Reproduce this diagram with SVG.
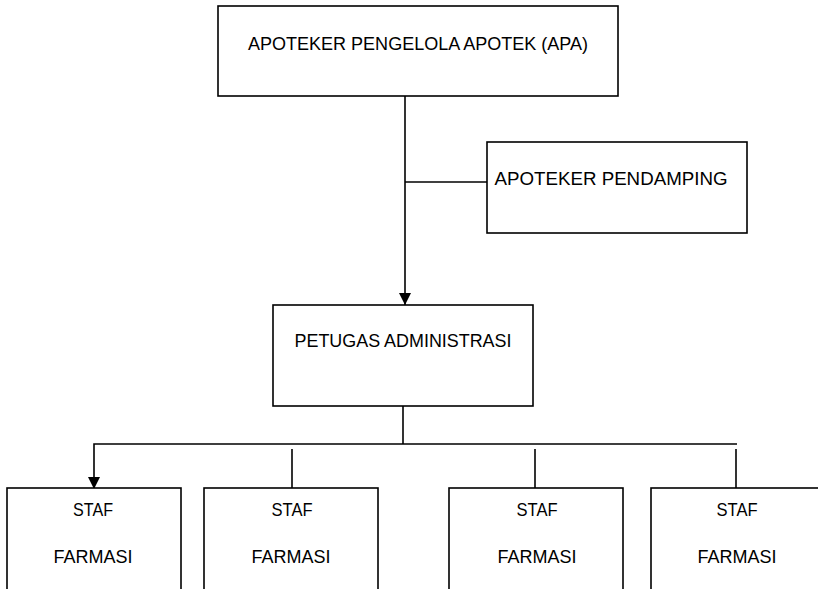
<svg xmlns="http://www.w3.org/2000/svg" width="818" height="589" viewBox="0 0 818 589">
<style>
.box{fill:#fff;stroke:#000;stroke-width:1.6}
.t{font-family:"Liberation Sans",Arial,sans-serif;font-size:18px;fill:#000;text-anchor:middle}
.c{fill:none;stroke:#000;stroke-width:1.6}
</style>
<defs>
<marker id="ah" markerWidth="12" markerHeight="12" refX="12" refY="6" orient="auto" markerUnits="userSpaceOnUse" viewBox="0 0 12 12">
<path d="M0,0 L12,6 L0,12 Z" fill="#000"/>
</marker>
</defs>
<g id="connectors">
<line class="c" x1="405" y1="96" x2="405" y2="305" stroke-width="2.4" marker-end="url(#ah)"/>
<line class="c" x1="405" y1="182" x2="487" y2="182"/>
<line class="c" x1="403" y1="406" x2="403" y2="444"/>
<polyline class="c" points="737,444 94,444 94,489" marker-end="url(#ah)"/>
<line class="c" x1="292" y1="449" x2="292" y2="488"/>
<line class="c" x1="535" y1="449" x2="535" y2="488"/>
<line class="c" x1="736" y1="449" x2="736" y2="488"/>
</g>
<g id="apa">
<rect class="box" x="218" y="6" width="400" height="90"/>
<text class="t" x="418" y="50" textLength="340" lengthAdjust="spacingAndGlyphs">APOTEKER PENGELOLA APOTEK (APA)</text>
</g>
<g id="pendamping">
<rect class="box" x="487" y="142" width="260" height="91"/>
<text class="t" x="611" y="185" textLength="233" lengthAdjust="spacingAndGlyphs">APOTEKER PENDAMPING</text>
</g>
<g id="petugas">
<rect class="box" x="273" y="305" width="260" height="101"/>
<text class="t" x="403" y="347" textLength="217" lengthAdjust="spacingAndGlyphs">PETUGAS ADMINISTRASI</text>
</g>
<g id="staf1">
<rect class="box" x="7" y="488" width="174" height="110"/>
<text class="t" x="93" y="516" textLength="40" lengthAdjust="spacingAndGlyphs">STAF</text>
<text class="t" x="93" y="563" textLength="79" lengthAdjust="spacingAndGlyphs">FARMASI</text>
</g>
<g id="staf2">
<rect class="box" x="204" y="488" width="174" height="110"/>
<text class="t" x="292" y="516" textLength="41" lengthAdjust="spacingAndGlyphs">STAF</text>
<text class="t" x="291" y="563" textLength="79" lengthAdjust="spacingAndGlyphs">FARMASI</text>
</g>
<g id="staf3">
<rect class="box" x="449" y="488" width="174" height="110"/>
<text class="t" x="537" y="516" textLength="41" lengthAdjust="spacingAndGlyphs">STAF</text>
<text class="t" x="537" y="563" textLength="79" lengthAdjust="spacingAndGlyphs">FARMASI</text>
</g>
<g id="staf4">
<rect class="box" x="651" y="488" width="174" height="110"/>
<text class="t" x="737" y="516" textLength="41" lengthAdjust="spacingAndGlyphs">STAF</text>
<text class="t" x="737" y="563" textLength="79" lengthAdjust="spacingAndGlyphs">FARMASI</text>
</g>
</svg>
